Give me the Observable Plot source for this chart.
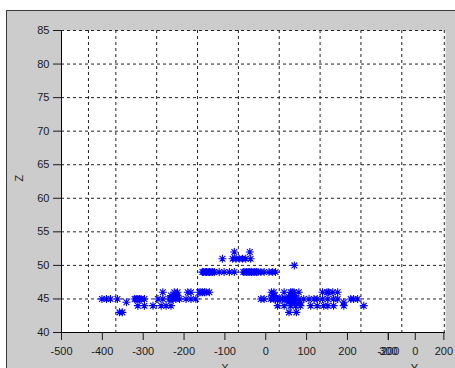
<!DOCTYPE html>
<html><head><meta charset="utf-8">
<script src="https://cdn.jsdelivr.net/npm/d3@7"></script>
<script src="https://cdn.jsdelivr.net/npm/@observablehq/plot@0.6"></script>
<style>
html,body{margin:0;padding:0;background:#fff;}
#wrap{position:relative;width:455px;height:368px;overflow:hidden;}
#panel{position:absolute;left:6px;top:10px;right:0;bottom:0;background:#cccccc;border-left:1px solid #3c3c3c;border-top:1px solid #3c3c3c;}
#chart{position:absolute;left:0;top:0;}
</style></head><body>
<div id="wrap"><div id="panel"></div><div id="chart"></div></div>
<script>
// ---- data (X, Z) grouped by Z level ----
const zLevels = [52, 51, 50, 49, 46, 45.5, 45, 44.5, 44, 43];
const row52 = [-77, -39];
const row51 = [-106, -81, -73, -65, -57, -49, -37];
const row50 = [70];
const row49 = [-155,-152,-148,-145,-141,-138,-134,-130,-126,-114,-102,-89,-77,
               -55,-51,-47,-43,-39,-35,-31,-27,-23,-19,-12,-4,8,16,24];
const row46 = [-252,-224,-216,-191,-183,-163,-159,-155,-150,-146,-138,
               14,20,45,61,65,69,81,139,150,154,164,176];
const row45_5 = [-232,-224,-216,16,22,61,69];
const row45 = [-401,-390,-380,-363,-321,-317,-313,-309,-305,-297,-264,-252,-236,-232,-228,-220,-211,-195,-183,-171,
               -12,-4,12,20,24,29,37,41,49,53,57,61,65,69,73,81,93,106,118,126,139,152,166,176,208,215,225];
const row44_5 = [-341,57,65,73,85,191];
const row44 = [-313,-297,-276,-256,-244,-232,29,45,61,73,85,110,126,142,152,166,191,240];
const row43 = [-358,-351,57,75];
const rows = [row52,row51,row50,row49,row46,row45_5,row45,row44_5,row44,row43];

// ---- axes ----
const xTicks = [-500,-400,-300,-200,-100,0,100,200,300];
const zTicks = [40,45,50,55,60,65,70,75,80,85];
const yTickLabels = ["-200","0","200"];
const yTickAt = [300,366,436];          // Y axis ticks, placed in projected X units
const gridX = [-434,-367,-267,-167,-67,33,133,233,333,437];
const gridZ = [45,50,55,60,65,70,75,80,85];
const axisTitles = [{t:"X", at:-100}, {t:"Y", at:364}];

const points = rows.flatMap((r,i)=>r.map(x=>({x, z:zLevels[i]})));

const asterisk = {draw(ctx,size){
  const r=Math.sqrt(size/Math.PI), d=r*0.72;
  ctx.moveTo(-r,0);ctx.lineTo(r,0);ctx.moveTo(0,-r);ctx.lineTo(0,r);
  ctx.moveTo(-d,-d);ctx.lineTo(d,d);ctx.moveTo(-d,d);ctx.lineTo(d,-d);
}};
const yMap = new Map(yTickAt.map((p,i)=>[p,yTickLabels[i]]));

const chart = Plot.plot({
  width:455, height:368,
  marginLeft:61, marginRight:10, marginTop:30, marginBottom:36,
  x:{domain:[-500,440]},
  y:{domain:[40,85]},
  style:{fontFamily:"'Liberation Sans', Arial, sans-serif", fontSize:"11px", color:"#1a1a1a", background:"transparent", overflow:"visible"},
  marks:[
    Plot.frame({fill:"white", stroke:null}),
    Plot.ruleY(gridZ, {stroke:"#222", strokeDasharray:"3,3", strokeWidth:1}),
    Plot.ruleX(gridX, {stroke:"#222", strokeDasharray:"3,3", strokeWidth:1}),
    Plot.dot(points, {x:"x", y:"z", symbol:asterisk, r:4, stroke:"#0000ff", strokeWidth:1.1, fill:"none"}),
    Plot.ruleX([-500], {stroke:"#000"}),
    Plot.ruleY([40], {stroke:"#000"}),
    Plot.axisY({ticks:zTicks, tickSize:8, tickPadding:4, label:null, tickFormat:d=>String(d)}),
    Plot.axisX({ticks:xTicks, tickSize:8, tickPadding:7, label:null, tickFormat:d=>String(d)}),
    Plot.axisX(yTickAt, {tickSize:8, tickPadding:7, label:null, tickFormat:d=>yMap.get(d)}),
    Plot.text(axisTitles, {x:"at", text:"t", frameAnchor:"bottom", lineAnchor:"top", dy:32, fill:"#1a1a1a"}),
    Plot.text(["Z"], {text:d=>d, frameAnchor:"left", rotate:-90, dx:-42, fill:"#1a1a1a"})
  ]
});
document.getElementById("chart").appendChild(chart);
</script>
</body></html>
